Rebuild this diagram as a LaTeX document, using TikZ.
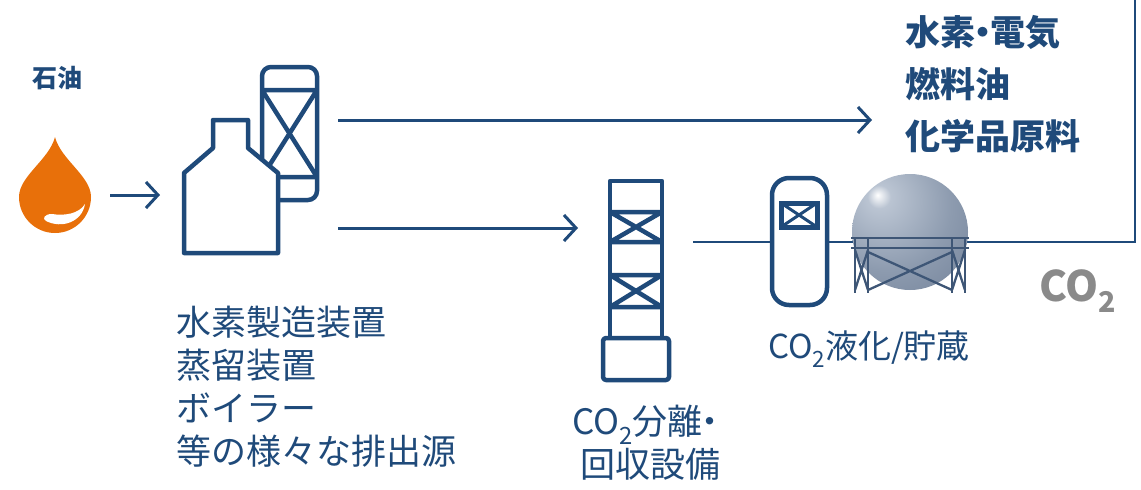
\documentclass[tikz,border=0pt]{standalone}
\usepackage{fontspec}
\newfontfamily\jp{Noto Sans CJK JP}
\usetikzlibrary{arrows.meta}
\definecolor{navy}{HTML}{1F4A7A}
\definecolor{oil}{HTML}{E8700A}
\definecolor{cogray}{HTML}{8A8A8A}
\definecolor{frame}{HTML}{3E5676}
\definecolor{tankA}{HTML}{BAC4D2}
\definecolor{tankB}{HTML}{8D9BAF}
\definecolor{tankC}{HTML}{62728B}
\pgfdeclareradialshading{tank}{\pgfpoint{-14bp}{16bp}}{%
  color(0bp)=(white); color(5bp)=(tankA); color(28bp)=(tankB);
  color(62bp)=(tankC); color(100bp)=(tankC)}
\newcommand{\subtwo}{\raisebox{-0.28em}{\scalebox{0.68}{2}}}
\newcommand{\ndot}{\hspace{-0.28em}・\hspace{-0.28em}}
\begin{document}
\begin{tikzpicture}[x=1pt,y=-1pt,
  flow/.style={navy, line width=3pt, -{Straight Barb[length=12pt,width=26pt,line width=3pt]}},
  pipe/.style={navy, line width=2.2pt},
  eq/.style={navy, line width=4.5pt, line join=round},
  lbl/.style={navy, font=\jp\fontsize{35}{43}\selectfont, inner sep=0pt},
  head/.style={navy, font=\jp\bfseries\fontsize{35}{52}\selectfont, inner sep=0pt, align=left},
]
\useasboundingbox (0,0) rectangle (1141,490);

% feedstock
\node[navy, font=\jp\bfseries\fontsize{25}{25}\selectfont, inner sep=0pt] (oiltxt) at (57,78) {石油};
\fill[oil] (55,137) .. controls (49,160) and (19,176) .. (19,197)
  arc[start angle=180, end angle=0, radius=36]
  .. controls (91,176) and (61,160) .. (55,137) -- cycle;
\fill[white] (46,221) .. controls (62,229) and (82,222) .. (85,204)
  .. controls (79,214) and (64,216) .. (52,214)
  .. controls (44,214) and (42,219) .. (46,221) -- cycle;
\coordinate (plantin0) at (110,195);

% emission source: tower behind the plant building
\draw[eq, rounded corners=9pt] (262,67) rectangle (317,200);
\draw[eq] (262,90) -- (317,90) (262,177) -- (317,177)
  (262,90) -- (317,177) (317,90) -- (262,177);
\draw[eq, fill=white] (184,253) -- (184,173) -- (213,148) -- (213,120) -- (248,120)
  -- (248,148) -- (278,173) -- (278,253) -- cycle;
\coordinate (plantin) at (160,195);
\coordinate (plantup) at (338,120);
\coordinate (plantdn) at (338,228);

\node[lbl, anchor=north west, align=left] (srclbl) at (176,306)
  {水素製造装置\\蒸留装置\\ボイラー\\等の様々な排出源};

% products
\node[head, anchor=north west] (prod) at (905,15) {水素\ndot 電気\\燃料油\\化学品原料};
\coordinate (prodin) at (872,120);

% CO2 capture column
\draw[eq] (610,181) rectangle (662,338);
\draw[eq] (610,212) -- (662,212) (610,242) -- (662,242)
  (610,275) -- (662,275) (610,307) -- (662,307)
  (610,212) -- (662,242) (662,212) -- (610,242)
  (610,275) -- (662,307) (662,275) -- (610,307);
\draw[eq, rounded corners=3pt, fill=white] (603,338) rectangle (669,380);
\coordinate (colin) at (578,228);
\coordinate (colout) at (693,242);

\node[lbl, align=center] (collbl) at (650,443) {CO\subtwo 分離\hspace{-0.28em}・\\回収設備};

% CO2 line to storage and onwards
\coordinate (corner) at (1135,242);
\coordinate (up) at (1135,0);
\draw[pipe] (colout) -- (corner) -- (up);

% liquefaction vessel
\draw[eq, fill=white, rounded corners=17pt] (772,178) rectangle (827,305);
\draw[navy, line width=5pt] (781,203) rectangle (817,227);
\draw[navy, line width=3pt] (781,203) -- (817,227) (817,203) -- (781,227);

% spherical storage tank
\shade[shading=tank] (910,232) circle[radius=58];
\begin{scope}[frame, line width=2.3pt]
  \draw (851,238) -- (969,238) (851,248) -- (969,248);
  \draw (855,238) -- (855,293) (868,238) -- (868,293)
        (952,238) -- (952,293) (965,238) -- (965,293);
  \draw (868,252) -- (952,290) (952,252) -- (868,290);
  \draw (855,250) -- (868,290) (868,250) -- (855,290)
        (952,250) -- (965,290) (965,250) -- (952,290);
\end{scope}

\node[lbl, font=\jp\fontsize{33}{40}\selectfont] (liqlbl) at (869,349) {CO\subtwo 液化/貯蔵};
\node[cogray, font=\jp\bfseries\fontsize{42}{42}\selectfont, inner sep=0pt] (co2) at (1078,291) {CO\subtwo};

% flows
\draw[flow] (plantin0) -- (plantin);
\draw[flow] (plantup) -- (prodin);
\draw[flow] (plantdn) -- (colin);
\end{tikzpicture}
\end{document}
